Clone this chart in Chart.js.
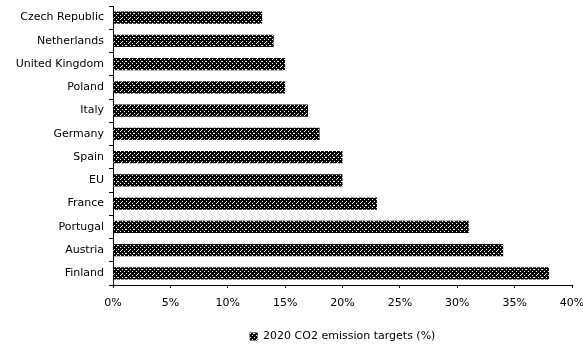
<!DOCTYPE html>
<html>
<head>
<meta charset="utf-8">
<script src="https://cdn.jsdelivr.net/npm/chart.js@4/dist/chart.umd.min.js"></script>
<style>
  html, body { margin: 0; padding: 0; background: #fff; }
  #wrap { width: 583px; height: 345px; }
</style>
</head>
<body>
<div id="wrap"><canvas id="myChart"></canvas></div>
<script>
var countries = ["Czech Republic", "Netherlands", "United Kingdom", "Poland", "Italy", "Germany",
                 "Spain", "EU", "France", "Portugal", "Austria", "Finland"];
var targets = [13, 14, 15, 15, 17, 18, 20, 20, 23, 31, 34, 38];
var seriesName = "2020 CO2 emission targets (%)";

// dithered black/white fill like the scanned bars
function hatch() {
  var c = document.createElement("canvas");
  c.width = 8; c.height = 8;
  var g = c.getContext("2d");
  g.fillStyle = "#000";
  g.fillRect(0, 0, 8, 8);
  g.fillStyle = "#fff";
  for (var i = 0; i < 8; i += 2) {
    g.fillRect(i, 7 - i, 1, 1);
    g.fillRect((i + 4) % 8, 7 - i, 1, 1);
  }
  g.fillRect(1, 2, 1, 1);
  g.fillRect(5, 5, 1, 1);
  return g.createPattern(c, "repeat");
}

Chart.defaults.font.family = "'DejaVu Sans', sans-serif";
Chart.defaults.font.size = 11;
Chart.defaults.color = "#000";

new Chart("myChart", {
  type: "bar",
  data: {
    labels: countries,
    datasets: [{
      label: seriesName,
      data: targets,
      backgroundColor: hatch(),
      borderWidth: 0,
      barPercentage: 0.53,
      categoryPercentage: 1
    }]
  },
  options: {
    indexAxis: "y",
    responsive: true,
    maintainAspectRatio: false,
    animation: false,
    // negative bottom pushes the legend text down near the edge
    layout: { padding: { top: 6, left: 0, right: 0, bottom: -7 } },
    plugins: {
      legend: {
        position: "bottom",
        fullSize: false,
        labels: { boxWidth: 8, boxHeight: 8, padding: 0, color: "#000" }
      },
      tooltip: { enabled: false }
    },
    scales: {
      x: {
        min: 0, max: 40,
        ticks: { stepSize: 5, padding: 9, callback: function (v) { return v + "%"; } },
        grid: { drawOnChartArea: false, tickLength: 3, color: "#000" },
        border: { color: "#000" },
        afterFit: function (s) { s.height = 46; s.paddingRight = 11; }
      },
      y: {
        ticks: { padding: 5 },
        grid: { offset: true, drawOnChartArea: false, tickLength: 4, color: "#000" },
        border: { color: "#000" },
        afterFit: function (s) { s.width = 113; s.paddingTop = 0; s.paddingBottom = 0; }
      }
    }
  }
});
</script>
</body>
</html>
